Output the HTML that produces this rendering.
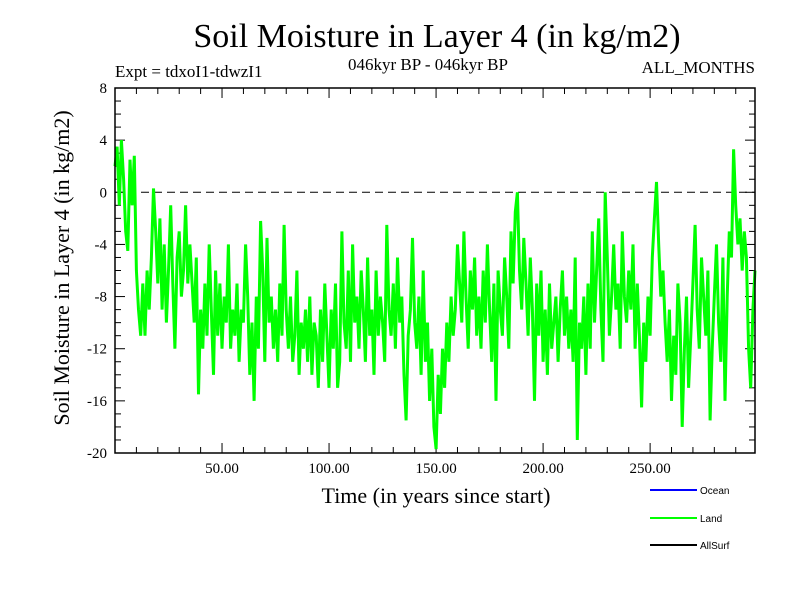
<!DOCTYPE html>
<html><head><meta charset="utf-8"><style>
body{margin:0;background:#fff}
svg text{font-family:"Liberation Serif",serif;fill:#000}
</style></head><body>
<svg width="800" height="600" xmlns="http://www.w3.org/2000/svg">
<text x="437" y="47" font-size="34" text-anchor="middle">Soil Moisture in Layer 4 (in kg/m2)</text>
<text x="115" y="77" font-size="17">Expt = tdxoI1-tdwzI1</text>
<text x="428" y="70" font-size="17" text-anchor="middle">046kyr BP - 046kyr BP</text>
<text x="755" y="73" font-size="17" text-anchor="end">ALL_MONTHS</text>
<g id="axes"></g>
<g id="series"></g>
<rect x="115" y="88" width="640" height="365" fill="none" stroke="#000" stroke-width="1.5"/>
<text x="436" y="503" font-size="22" text-anchor="middle">Time (in years since start)</text>
<text transform="translate(69,268) rotate(-90)" font-size="22" text-anchor="middle">Soil Moisture in Layer 4 (in kg/m2)</text>
<g font-size="10">
<line x1="650" y1="490" x2="697" y2="490" stroke="#0000ff" stroke-width="2"/>
<text x="700" y="494" style="font-family:'Liberation Sans',sans-serif" font-size="10">Ocean</text>
<line x1="650" y1="518" x2="697" y2="518" stroke="#00ff00" stroke-width="2"/>
<text x="700" y="522" style="font-family:'Liberation Sans',sans-serif" font-size="10">Land</text>
<line x1="650" y1="545" x2="697" y2="545" stroke="#000" stroke-width="2"/>
<text x="700" y="549" style="font-family:'Liberation Sans',sans-serif" font-size="10">AllSurf</text>
</g>
</svg>
<script>
const landValues=[2,3.5,-1,4,1,-3,-4.5,2.5,-1,2.8,
-6,-9,-11,-7,-11,-6,-9,-5,0.3,-3,
-7,-2,-9,-4,-10,-6,-1,-7,-12,-5,
-3,-8,-6,-1,-7,-4,-7,-10,-5,-15.5,
-9,-12,-7,-11,-4,-9,-14,-6,-11,-7,
-12,-8,-10,-4,-12,-9,-11,-7,-13,-9,
-10,-4,-8,-14,-10,-16,-8,-12,-2.2,-6,
-13,-3.5,-10,-8,-12,-9,-13,-7,-11,-2.5,
-9,-12,-8,-13,-11,-6,-14,-10,-12,-9,
-13,-8,-14,-10,-11,-15,-9,-13,-7,-11,
-15,-9,-12,-7,-15,-13,-3,-10,-12,-6,
-13,-4,-10,-8,-12,-6,-9,-13,-5,-11,
-9,-14,-6,-11,-8,-10,-13,-2.5,-9,-11,
-7,-12,-5,-10,-8,-14,-17.5,-11,-9,-3.5,
-10,-12,-8,-14,-6,-13,-10,-16,-12,-18,
-19.7,-14,-17,-12,-15,-10,-13,-8,-11,-9,
-4,-7,-10,-3,-8,-12,-6,-9,-5,-11,
-8,-12,-6,-10,-4,-9,-13,-7,-16,-6,
-9,-11,-5,-8,-12,-3,-7,-1.5,0,-6,
-9,-3.5,-7,-11,-5,-9,-16,-7,-11,-6,
-13,-9,-14,-7,-12,-10,-8,-13,-9,-6,
-11,-8,-12,-9,-13,-5,-19,-10,-12,-8,
-14,-7,-12,-3,-10,-6,-2,-9,-13,0,
-5,-11,-8,-4,-9,-7,-12,-3,-8,-10,
-6,-9,-4,-12,-7,-11,-16.5,-10,-13,-8,
-11,-5,-2,0.8,-4,-8,-6,-10,-13,-9,
-16,-11,-14,-7,-10,-18,-12,-8,-15,-11,
-7,-2.5,-9,-12,-5,-8,-11,-6,-17.5,-12,
-8,-4,-10,-13,-5,-16,-8,-3,-5,3.3,
-1,-4,-2,-6,-3,-5,-12,-15,-9,-6];
const xTickValues=[50,100,150,200,250];
const xTickLabels=["50.00","100.00","150.00","200.00","250.00"];
const yTickValues=[8,4,0,-4,-8,-12,-16,-20];
const yTickLabels=["8","4","0","-4","-8","-12","-16","-20"];
const NS="http://www.w3.org/2000/svg";
const X0=115,X1=755,Y0=88,Y1=453,xmin=0,xmax=299,ymin=-20,ymax=8;
const xs=v=>X0+(v-xmin)/(xmax-xmin)*(X1-X0);
const ys=v=>Y1-(v-ymin)/(ymax-ymin)*(Y1-Y0);
const axes=document.getElementById('axes');
function mk(tag,attrs,parent){const e=document.createElementNS(NS,tag);for(const k in attrs)e.setAttribute(k,attrs[k]);parent.appendChild(e);return e;}
for(let v=10;v<xmax;v+=10){const x=xs(v);const big=v%50===0;
const t1=mk('line',{x1:x,x2:x,y1:Y1,y2:Y1-(big?10:6),stroke:'#000'},axes);


const t2=mk('line',{x1:x,x2:x,y1:Y0,y2:Y0+(big?10:6),stroke:'#000'},axes);

}
xTickValues.forEach((v,i)=>{const t=mk('text',{x:xs(v),y:Y1+20,'font-size':15,'text-anchor':'middle'},axes);t.textContent=xTickLabels[i];

});
for(let v=ymin+1;v<ymax;v++){const y=ys(v);const big=v%4===0;
const t1=mk('line',{x1:X0,x2:X0+(big?10:6),y1:y,y2:y,stroke:'#000'},axes);


const t2=mk('line',{x1:X1,x2:X1-(big?10:6),y1:y,y2:y,stroke:'#000'},axes);

}
yTickValues.forEach((v,i)=>{const t=mk('text',{x:X0-8,y:ys(v)+5,'font-size':15,'text-anchor':'end'},axes);t.textContent=yTickLabels[i];

});
const zl=mk('line',{x1:X0,x2:X1,y1:ys(0),y2:ys(0),stroke:'#000','stroke-dasharray':'8,5'},axes);


const pts=landValues.map((v,i)=>xs(i).toFixed(1)+','+ys(v).toFixed(1)).join(' ');
const pl=mk('polyline',{points:pts,fill:'none',stroke:'#00ff00','stroke-width':3,'stroke-linejoin':'miter'},document.getElementById('series'));


</script>
</body></html>
